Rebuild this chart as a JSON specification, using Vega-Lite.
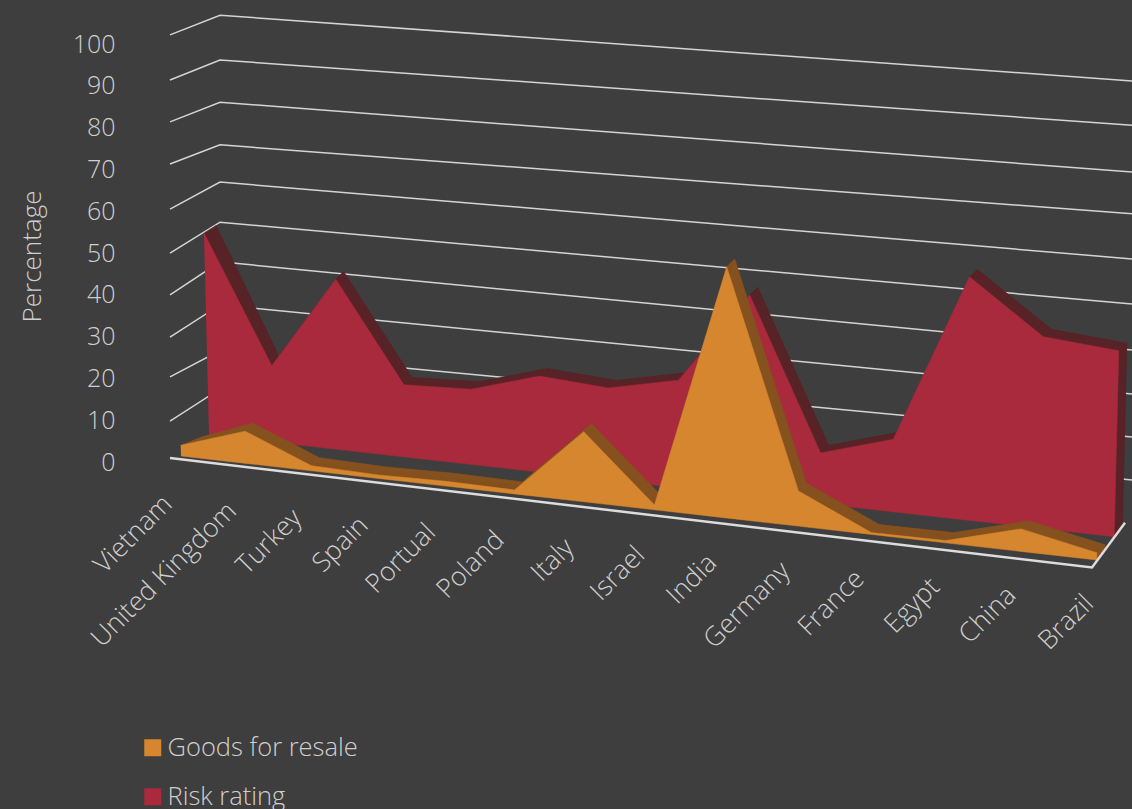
{
"$schema":"https://vega.github.io/schema/vega-lite/v6.json",
"width":962,"height":809,
"autosize":{"type":"none"},
"padding":{"left":170,"top":0,"right":0,"bottom":0},
"background":"#3e3e3e",
"config":{"view":{"stroke":null},"font":"Open Sans"},
"datasets":{
"values":[
{"country":"Vietnam","i":0,"series":"Goods for resale","value":2.5},
{"country":"United Kingdom","i":1,"series":"Goods for resale","value":7.5},
{"country":"Turkey","i":2,"series":"Goods for resale","value":1.2},
{"country":"Spain","i":3,"series":"Goods for resale","value":0.8},
{"country":"Portual","i":4,"series":"Goods for resale","value":1.1},
{"country":"Poland","i":5,"series":"Goods for resale","value":0.9},
{"country":"Italy","i":6,"series":"Goods for resale","value":15.8},
{"country":"Israel","i":7,"series":"Goods for resale","value":1.1},
{"country":"India","i":8,"series":"Goods for resale","value":56},
{"country":"Germany","i":9,"series":"Goods for resale","value":7.8},
{"country":"France","i":10,"series":"Goods for resale","value":0.4},
{"country":"Egypt","i":11,"series":"Goods for resale","value":0.5},
{"country":"China","i":12,"series":"Goods for resale","value":4.9},
{"country":"Brazil","i":13,"series":"Goods for resale","value":1.6},
{"country":"Vietnam","i":0,"series":"Risk rating","value":48.4},
{"country":"United Kingdom","i":1,"series":"Risk rating","value":18.2},
{"country":"Turkey","i":2,"series":"Risk rating","value":40.2},
{"country":"Spain","i":3,"series":"Risk rating","value":16.9},
{"country":"Portual","i":4,"series":"Risk rating","value":17.5},
{"country":"Poland","i":5,"series":"Risk rating","value":22.2},
{"country":"Italy","i":6,"series":"Risk rating","value":21.1},
{"country":"Israel","i":7,"series":"Risk rating","value":24.5},
{"country":"India","i":8,"series":"Risk rating","value":45.4},
{"country":"Germany","i":9,"series":"Risk rating","value":11.4},
{"country":"France","i":10,"series":"Risk rating","value":16.2},
{"country":"Egypt","i":11,"series":"Risk rating","value":53.9},
{"country":"China","i":12,"series":"Risk rating","value":42.2},
{"country":"Brazil","i":13,"series":"Risk rating","value":40.7}
],
"grid":[
{"level":100,"wall":"left","height":101.7},{"level":100,"wall":"corner","height":106.4},{"level":100,"wall":"right","height":90.7},
{"level":90,"wall":"left","height":90.9},{"level":90,"wall":"corner","height":95.7},{"level":90,"wall":"right","height":80.1},
{"level":80,"wall":"left","height":80.9},{"level":80,"wall":"corner","height":85.6},{"level":80,"wall":"right","height":68.9},
{"level":70,"wall":"left","height":70.8},{"level":70,"wall":"corner","height":75.4},{"level":70,"wall":"right","height":58.9},
{"level":60,"wall":"left","height":60.0},{"level":60,"wall":"corner","height":66.5},{"level":60,"wall":"right","height":48.1},
{"level":50,"wall":"left","height":49.5},{"level":50,"wall":"corner","height":56.9},{"level":50,"wall":"right","height":37.3},
{"level":40,"wall":"left","height":39.5},{"level":40,"wall":"corner","height":47.4},{"level":40,"wall":"right","height":26.3},
{"level":30,"wall":"left","height":29.4},{"level":30,"wall":"corner","height":37.1},{"level":30,"wall":"right","height":15.8},
{"level":20,"wall":"left","height":19.9},{"level":20,"wall":"corner","height":26.2},{"level":20,"wall":"right","height":5.5},
{"level":10,"wall":"left","height":9.3},{"level":10,"wall":"corner","height":17},{"level":10,"wall":"right","height":-4.8}
],
"floor":[
{"wall":"left","height":0.5,"n":0},{"wall":"frontRight","height":-25.7,"n":1},{"wall":"backRight","height":-15,"n":2}
]
},
"layer":[
{"data":{"name":"grid"},
 "transform":[{"calculate":"datum.wall==='left'?170:datum.wall==='corner'?220:1132","as":"px"}],
 "mark":{"type":"line","stroke":"#d4d4d4","strokeWidth":1.5},
 "encoding":{
  "x":{"field":"px","type":"quantitative","scale":{"domain":[170,1132],"range":[0,962],"nice":false,"zero":false},"axis":null},
  "y":{"field":"height","type":"quantitative","scale":{"domain":[-83.49,110.05],"nice":false,"zero":false},
   "axis":{"values":[0,10,20,30,40,50,60,70,80,90,100],"domain":false,"ticks":false,"grid":false,"labelPadding":55,"labelOffset":2,"labelFontSize":25,"labelFontWeight":300,"labelColor":"#cfcfcf","labelFont":"Open Sans",
    "title":"Percentage","titleFontSize":26,"titleFontWeight":300,"titleColor":"#cfcfcf","titleFont":"Open Sans","titleX":-138,"titleY":256,"titleAngle":-90,"titleAlign":"center","titleBaseline":"middle"}},
  "detail":{"field":"level"},
  "order":{"field":"px"}
 }},
{"data":{"name":"values"},
 "transform":[
  {"filter":"datum.series==='Risk rating'"},
  {"calculate":"209+64.04*datum.i+0.43*datum.i*datum.i","as":"xb"},
  {"calculate":"435+0.1123*(datum.xb-209)","as":"base"},
  {"calculate":"datum.value*(4.18+0.03*datum.i)","as":"h"},
  {"calculate":"[0,1]","as":"edge"},{"flatten":["edge"]},
  {"calculate":"[0.08,0.16,0.24,0.32,0.4,0.48,0.56,0.64,0.72,0.8,0.88,0.96,1]","as":"d"},{"flatten":["d"]},
  {"calculate":"(datum.edge?datum.xb:datum.xb+(datum.xb-665)*0.000055*datum.h)+datum.d*(datum.i===0?12:8)","as":"px"},
  {"calculate":"(460-(datum.edge?datum.base:datum.base-datum.h)+7.5*datum.d)/4.18","as":"pv"},
  {"calculate":"datum.edge?100-datum.i:datum.i","as":"ord"}
 ],
 "mark":{"type":"line","fill":"#582326","stroke":"#582326","strokeWidth":0.5},
 "encoding":{"x":{"field":"px","type":"quantitative"},"y":{"field":"pv","type":"quantitative"},"detail":{"field":"d"},"order":{"field":"ord"}}},
{"data":{"name":"values"},
 "transform":[
  {"filter":"datum.series==='Risk rating'"},
  {"calculate":"209+64.04*datum.i+0.43*datum.i*datum.i","as":"xb"},
  {"calculate":"435+0.1123*(datum.xb-209)","as":"base"},
  {"calculate":"datum.value*(4.18+0.03*datum.i)","as":"h"},
  {"calculate":"[0,1]","as":"edge"},{"flatten":["edge"]},
  {"calculate":"datum.edge?datum.xb:datum.xb+(datum.xb-665)*0.000055*datum.h","as":"px"},
  {"calculate":"(460-(datum.edge?datum.base:datum.base-datum.h))/4.18","as":"pv"},
  {"calculate":"datum.edge?100-datum.i:datum.i","as":"ord"}
 ],
 "mark":{"type":"line","fill":"#a92a3c","stroke":"#a92a3c","strokeWidth":0.5},
 "encoding":{"x":{"field":"px","type":"quantitative"},"y":{"field":"pv","type":"quantitative"},"order":{"field":"ord"}}},
{"data":{"name":"values"},
 "transform":[
  {"filter":"datum.series==='Goods for resale'"},
  {"calculate":"181+64.37*datum.i+0.467*datum.i*datum.i","as":"xb"},
  {"calculate":"456+0.1136*(datum.xb-181)","as":"base"},
  {"calculate":"datum.value*(4.27+0.027*datum.i)","as":"h"},
  {"calculate":"[0,1]","as":"edge"},{"flatten":["edge"]},
  {"calculate":"[0.08,0.16,0.24,0.32,0.4,0.48,0.56,0.64,0.72,0.8,0.88,0.96,1]","as":"d"},{"flatten":["d"]},
  {"calculate":"(datum.edge?datum.xb:datum.xb+(datum.xb-665)*0.000055*datum.h)+datum.d*(datum.i===0?20:8)","as":"px"},
  {"calculate":"(460-(datum.edge?datum.base:datum.base-datum.h)+8*datum.d)/4.18","as":"pv"},
  {"calculate":"datum.edge?100-datum.i:datum.i","as":"ord"}
 ],
 "mark":{"type":"line","fill":"#85511f","stroke":"#85511f","strokeWidth":0.5},
 "encoding":{"x":{"field":"px","type":"quantitative"},"y":{"field":"pv","type":"quantitative"},"detail":{"field":"d"},"order":{"field":"ord"}}},
{"data":{"name":"values"},
 "transform":[
  {"filter":"datum.series==='Goods for resale'"},
  {"calculate":"181+64.37*datum.i+0.467*datum.i*datum.i","as":"xb"},
  {"calculate":"456+0.1136*(datum.xb-181)","as":"base"},
  {"calculate":"datum.value*(4.27+0.027*datum.i)","as":"h"},
  {"calculate":"[0,1]","as":"edge"},{"flatten":["edge"]},
  {"calculate":"datum.edge?datum.xb:datum.xb+(datum.xb-665)*0.000055*datum.h","as":"px"},
  {"calculate":"(460-(datum.edge?datum.base:datum.base-datum.h))/4.18","as":"pv"},
  {"calculate":"datum.edge?100-datum.i:datum.i","as":"ord"}
 ],
 "mark":{"type":"line","fill":"#d5862e","stroke":"#d5862e","strokeWidth":0.5},
 "encoding":{"x":{"field":"px","type":"quantitative"},"y":{"field":"pv","type":"quantitative"},"order":{"field":"ord"}}},
{"data":{"name":"floor"},
 "transform":[{"calculate":"datum.wall==='left'?170:datum.wall==='frontRight'?1092:1125","as":"px"}],
 "mark":{"type":"line","stroke":"#dcdcdc","strokeWidth":2.5},
 "encoding":{"x":{"field":"px","type":"quantitative"},"y":{"field":"height","type":"quantitative"},"order":{"field":"n"}}},
{"data":{"name":"values"},
 "transform":[
  {"filter":"datum.series==='Goods for resale'"},
  {"calculate":"168+63.6*datum.i+0.56*datum.i*datum.i","as":"px"},
  {"calculate":"(460-(500+0.108*(datum.px-168)))/4.18","as":"pv"}
 ],
 "mark":{"type":"text","angle":-45,"align":"right","baseline":"middle","fontSize":26.5,"fontWeight":300,"color":"#cfcfcf","font":"Open Sans"},
 "encoding":{"x":{"field":"px","type":"quantitative"},"y":{"field":"pv","type":"quantitative"},"text":{"field":"country"}}},
{"data":{"name":"values"},
 "mark":{"type":"square","size":0,"opacity":0},
 "encoding":{
  "fill":{"field":"series","type":"nominal","scale":{"domain":["Goods for resale","Risk rating"],"range":["#d5862e","#a92a3c"]},
   "legend":{"orient":"none","legendX":-30,"legendY":735,"title":null,"symbolType":"square","symbolSize":289,"symbolOpacity":1,"labelFontSize":25.5,"labelFontWeight":300,"labelColor":"#cfcfcf","labelFont":"Open Sans","labelLimit":400,"rowPadding":22,"labelOffset":2,"symbolStrokeWidth":0}}
 }}
]
}
